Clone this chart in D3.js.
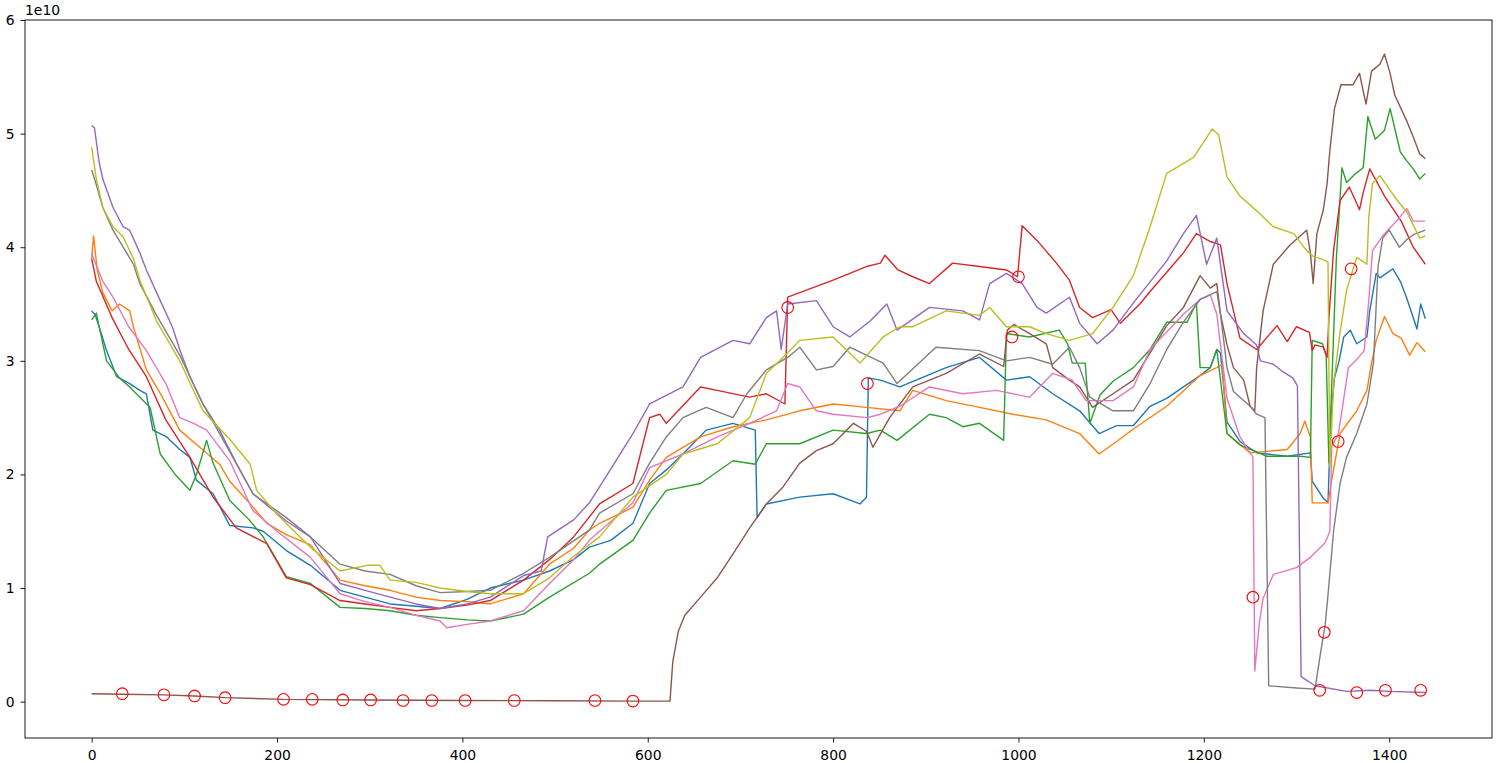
<!DOCTYPE html>
<html>
<head>
<meta charset="utf-8">
<script src="https://cdn.jsdelivr.net/npm/d3@7"></script>
<style>
  body { margin: 0; background: #fff; }
  svg { display: block; }
</style>
</head>
<body>
<svg id="chart"></svg>
<script>
// values are in units of 1e10, x is the sample index
const blue = [[0,3.44],[4,3.40],[10,3.25],[16,3.09],[27,2.86],[41,2.80],[52,2.74],[59,2.71],[66,2.39],[81,2.33],[95,2.22],[106,2.15],[113,1.95],[131,1.83],[149,1.55],[174,1.53],[185,1.50],[210,1.33],[236,1.20],[268,0.98],[295,0.92],[322,0.86],[350,0.84],[376,0.82],[405,0.90],[430,1.00],[466,1.07],[494,1.15],[520,1.25],[537,1.36],[560,1.42],[584,1.57],[602,1.92],[620,2.04],[638,2.18],[663,2.39],[692,2.45],[716,2.39],[718,1.62],[728,1.74],[764,1.80],[800,1.83],[829,1.74],[836,1.80],[838,2.85],[851,2.83],[872,2.77],[922,2.94],[958,3.03],[987,2.83],[1012,2.86],[1037,2.71],[1066,2.56],[1087,2.36],[1106,2.43],[1124,2.43],[1142,2.60],[1160,2.67],[1178,2.77],[1196,2.87],[1207,2.94],[1214,3.10],[1218,3.07],[1225,2.46],[1239,2.29],[1257,2.19],[1290,2.16],[1315,2.19],[1317,1.94],[1329,1.79],[1334,1.75],[1337,2.50],[1341,2.85],[1346,3.00],[1351,3.21],[1358,3.27],[1365,3.15],[1376,3.21],[1379,3.44],[1386,3.77],[1390,3.73],[1404,3.81],[1412,3.70],[1419,3.55],[1430,3.28],[1434,3.50],[1439,3.37]];
const orange = [[0,3.90],[2,4.10],[6,3.80],[12,3.60],[22,3.44],[30,3.50],[41,3.44],[45,3.30],[59,2.92],[75,2.70],[95,2.39],[115,2.25],[138,2.09],[149,1.94],[170,1.75],[189,1.57],[210,1.47],[236,1.38],[268,1.07],[295,1.02],[322,0.98],[350,0.92],[376,0.89],[405,0.88],[430,0.86],[466,0.95],[494,1.21],[520,1.35],[537,1.51],[548,1.57],[584,1.71],[602,1.95],[620,2.15],[657,2.33],[692,2.42],[728,2.48],[764,2.56],[800,2.62],[836,2.59],[872,2.56],[886,2.74],[922,2.65],[958,2.59],[994,2.53],[1030,2.48],[1066,2.36],[1087,2.18],[1106,2.29],[1124,2.40],[1160,2.60],[1196,2.87],[1214,2.94],[1220,2.97],[1225,2.36],[1250,2.19],[1290,2.22],[1304,2.36],[1309,2.47],[1315,2.33],[1317,1.75],[1334,1.75],[1338,1.95],[1347,2.36],[1365,2.56],[1376,2.74],[1381,2.98],[1386,3.18],[1395,3.39],[1404,3.24],[1413,3.20],[1422,3.05],[1430,3.16],[1439,3.08]];
const green = [[0,3.36],[5,3.42],[16,3.00],[30,2.85],[41,2.77],[63,2.59],[74,2.18],[90,2.00],[106,1.86],[113,2.00],[124,2.30],[131,2.10],[149,1.77],[170,1.60],[185,1.45],[210,1.10],[236,1.04],[268,0.83],[295,0.82],[322,0.80],[350,0.76],[376,0.74],[405,0.72],[430,0.71],[466,0.77],[494,0.92],[537,1.13],[548,1.21],[584,1.42],[602,1.66],[620,1.86],[657,1.92],[692,2.12],[716,2.09],[728,2.27],[764,2.27],[800,2.39],[836,2.36],[851,2.39],[869,2.30],[904,2.53],[922,2.50],[940,2.42],[958,2.45],[984,2.30],[987,3.24],[1012,3.21],[1044,3.27],[1053,3.15],[1058,2.98],[1072,2.98],[1077,2.45],[1088,2.70],[1102,2.82],[1124,2.94],[1142,3.10],[1160,3.34],[1182,3.34],[1192,3.51],[1196,2.94],[1207,2.94],[1214,3.10],[1225,2.36],[1239,2.26],[1268,2.16],[1304,2.16],[1315,2.15],[1317,3.18],[1328,3.15],[1332,3.05],[1335,2.10],[1339,3.00],[1343,3.90],[1349,4.70],[1354,4.57],[1364,4.65],[1372,4.70],[1377,5.15],[1385,4.95],[1395,5.03],[1401,5.22],[1412,4.84],[1419,4.76],[1426,4.69],[1433,4.60],[1439,4.65]];
const red = [[0,3.90],[5,3.70],[22,3.38],[40,3.10],[59,2.86],[80,2.48],[106,2.15],[131,1.80],[156,1.53],[189,1.39],[210,1.09],[236,1.03],[268,0.89],[295,0.86],[322,0.83],[350,0.80],[376,0.82],[405,0.85],[430,0.89],[466,1.07],[494,1.25],[520,1.45],[548,1.74],[584,1.92],[602,2.50],[613,2.53],[620,2.45],[657,2.77],[675,2.74],[710,2.68],[728,2.71],[748,2.62],[751,3.56],[764,3.60],[800,3.71],[836,3.83],[851,3.86],[856,3.93],[870,3.80],[886,3.74],[904,3.68],[929,3.86],[958,3.83],[987,3.80],[999,3.74],[1004,4.19],[1020,4.06],[1041,3.86],[1055,3.71],[1066,3.47],[1080,3.38],[1100,3.45],[1110,3.33],[1131,3.50],[1142,3.61],[1160,3.78],[1178,3.95],[1192,4.12],[1207,4.05],[1218,4.02],[1225,3.68],[1239,3.20],[1257,3.10],[1279,3.31],[1290,3.17],[1300,3.30],[1314,3.25],[1317,3.09],[1320,3.14],[1329,3.12],[1333,3.03],[1335,3.38],[1340,3.97],[1347,4.41],[1357,4.53],[1368,4.33],[1372,4.48],[1379,4.69],[1395,4.45],[1413,4.23],[1426,4.00],[1439,3.85]];
const purple = [[0,5.07],[3,5.05],[8,4.75],[12,4.60],[23,4.35],[34,4.18],[41,4.15],[52,3.95],[59,3.80],[74,3.53],[87,3.30],[95,3.10],[106,2.86],[120,2.62],[138,2.39],[156,2.10],[174,1.83],[210,1.59],[236,1.45],[268,1.04],[295,0.98],[322,0.92],[350,0.86],[376,0.82],[405,0.86],[430,0.92],[466,1.11],[485,1.15],[492,1.45],[520,1.60],[537,1.75],[548,1.89],[584,2.36],[602,2.62],[638,2.77],[657,3.03],[692,3.18],[710,3.15],[728,3.38],[739,3.44],[744,3.10],[751,3.50],[782,3.53],[800,3.30],[818,3.21],[840,3.35],[858,3.50],[869,3.27],[904,3.47],[940,3.44],[958,3.36],[969,3.68],[987,3.77],[1004,3.68],[1020,3.47],[1030,3.42],[1055,3.56],[1066,3.33],[1085,3.15],[1102,3.27],[1124,3.51],[1160,3.88],[1178,4.12],[1192,4.28],[1203,3.85],[1214,4.08],[1225,3.44],[1243,3.24],[1257,3.14],[1261,3.00],[1275,2.97],[1286,2.90],[1296,2.85],[1301,2.78],[1305,0.22],[1320,0.14],[1354,0.09],[1380,0.10],[1400,0.09],[1439,0.08]];
const brown = [[0,0.07],[33,0.065],[78,0.06],[111,0.05],[144,0.035],[207,0.02],[300,0.015],[400,0.01],[500,0.008],[584,0.005],[624,0.005],[627,0.35],[633,0.62],[640,0.76],[657,0.92],[675,1.09],[692,1.30],[710,1.53],[728,1.74],[746,1.89],[764,2.10],[782,2.21],[800,2.27],[822,2.45],[836,2.38],[843,2.24],[861,2.50],[886,2.77],[922,2.89],[958,3.06],[984,2.95],[988,3.27],[995,3.32],[1012,3.24],[1030,3.15],[1037,2.94],[1055,2.83],[1066,2.77],[1080,2.59],[1102,2.71],[1124,2.83],[1142,3.07],[1160,3.31],[1178,3.47],[1196,3.75],[1207,3.64],[1214,3.68],[1218,3.41],[1225,3.14],[1232,2.94],[1243,2.83],[1250,2.60],[1255,2.56],[1257,2.94],[1264,3.44],[1275,3.85],[1293,4.02],[1311,4.15],[1315,3.95],[1318,3.68],[1322,4.12],[1329,4.33],[1333,4.56],[1336,4.85],[1341,5.22],[1348,5.43],[1361,5.43],[1368,5.53],[1375,5.26],[1381,5.55],[1390,5.61],[1395,5.70],[1401,5.53],[1406,5.34],[1419,5.11],[1426,4.97],[1433,4.82],[1439,4.78]];
const pink = [[0,3.95],[2,3.90],[12,3.70],[23,3.56],[40,3.30],[59,3.09],[80,2.80],[95,2.50],[110,2.45],[124,2.39],[149,2.12],[174,1.68],[200,1.50],[236,1.27],[268,0.95],[295,0.88],[322,0.83],[350,0.76],[376,0.71],[383,0.65],[405,0.68],[430,0.71],[466,0.80],[494,1.04],[520,1.25],[537,1.42],[548,1.50],[584,1.75],[602,2.06],[638,2.18],[675,2.33],[710,2.45],[739,2.56],[751,2.80],[764,2.77],[782,2.56],[800,2.53],[837,2.50],[851,2.53],[872,2.60],[904,2.77],[940,2.71],[976,2.74],[1012,2.68],[1037,2.89],[1058,2.83],[1073,2.65],[1102,2.65],[1124,2.77],[1142,3.10],[1178,3.41],[1196,3.54],[1207,3.58],[1214,3.41],[1225,2.67],[1239,2.33],[1250,2.19],[1253,2.15],[1255,0.27],[1260,0.70],[1264,0.91],[1275,1.12],[1300,1.18],[1315,1.27],[1325,1.35],[1331,1.40],[1336,1.50],[1338,2.25],[1345,2.35],[1349,2.56],[1356,2.94],[1367,3.03],[1373,3.09],[1378,3.53],[1382,3.97],[1394,4.11],[1408,4.23],[1419,4.34],[1426,4.23],[1439,4.23]];
const gray = [[0,4.68],[5,4.55],[12,4.35],[23,4.15],[34,4.00],[45,3.85],[52,3.68],[70,3.40],[95,3.05],[120,2.62],[149,2.20],[174,1.83],[210,1.62],[236,1.45],[268,1.21],[295,1.15],[322,1.12],[350,1.02],[376,0.96],[405,0.97],[430,0.98],[466,1.13],[494,1.27],[537,1.51],[548,1.66],[584,1.83],[602,2.10],[620,2.33],[638,2.50],[663,2.59],[692,2.50],[707,2.71],[728,2.92],[751,3.03],[764,3.12],[782,2.92],[800,2.95],[818,3.12],[836,3.05],[854,2.98],[869,2.80],[911,3.12],[958,3.09],[987,3.00],[1012,3.03],[1037,2.97],[1055,3.12],[1066,2.94],[1077,2.68],[1102,2.56],[1124,2.56],[1142,2.80],[1160,3.10],[1178,3.34],[1196,3.54],[1214,3.61],[1218,3.41],[1225,2.94],[1232,2.73],[1250,2.60],[1257,2.53],[1266,2.50],[1270,0.14],[1300,0.12],[1320,0.11],[1325,0.38],[1331,0.68],[1334,0.94],[1340,1.50],[1347,1.92],[1354,2.15],[1365,2.36],[1376,2.62],[1383,2.98],[1388,3.83],[1393,4.08],[1400,4.15],[1411,4.00],[1418,4.06],[1426,4.11],[1439,4.15]];
const olive = [[0,4.88],[5,4.60],[12,4.35],[23,4.18],[34,4.09],[45,3.90],[52,3.71],[70,3.35],[95,3.00],[120,2.56],[149,2.31],[171,2.09],[178,1.86],[200,1.65],[236,1.36],[268,1.15],[297,1.20],[311,1.20],[322,1.07],[350,1.05],[376,1.00],[405,0.97],[430,0.95],[466,0.95],[494,1.09],[520,1.28],[548,1.45],[584,1.80],[620,2.00],[638,2.18],[675,2.27],[710,2.50],[728,2.89],[746,3.03],[764,3.18],[800,3.21],[829,2.98],[854,3.21],[872,3.30],[886,3.30],[922,3.44],[958,3.40],[969,3.47],[987,3.30],[1012,3.30],[1030,3.24],[1055,3.18],[1080,3.24],[1102,3.47],[1124,3.75],[1142,4.18],[1160,4.65],[1189,4.79],[1209,5.04],[1216,4.99],[1225,4.62],[1239,4.45],[1257,4.32],[1275,4.18],[1297,4.12],[1311,3.97],[1318,3.92],[1326,3.90],[1334,3.87],[1336,2.06],[1340,2.80],[1347,3.25],[1354,3.62],[1365,3.91],[1376,3.85],[1378,4.26],[1382,4.56],[1390,4.63],[1395,4.57],[1408,4.42],[1419,4.31],[1433,4.08],[1439,4.10]];

const markers = [[33,0.07],[78,0.06],[111,0.05],[144,0.035],[207,0.02],[238,0.02],[271,0.015],[301,0.015],[336,0.01],[367,0.01],[403,0.01],[456,0.01],[543,0.01],[584,0.005],[751,3.47],[837,2.80],[993,3.21],[1000,3.74],[1253,0.92],[1325,0.10],[1330,0.61],[1345,2.29],[1359,3.81],[1365,0.08],[1396,0.10],[1434,0.10]];

const xTicks = [0, 200, 400, 600, 800, 1000, 1200, 1400];
const yTicks = [0, 1, 2, 3, 4, 5, 6];

const series = [blue, orange, green, red, purple, brown, pink, gray, olive];
const colors = ['#1f77b4', '#ff7f0e', '#2ca02c', '#d62728', '#9467bd', '#8c564b', '#e377c2', '#7f7f7f', '#bcbd22'];

const width = 1502;
const height = 763;
const plotLeft = 25, plotRight = 1492, plotTop = 20, plotBottom = 738;

const svg = d3.select('#chart')
    .attr('width', width)
    .attr('height', height);

svg.append('rect')
    .attr('width', width)
    .attr('height', height)
    .attr('fill', '#fff');

const x = d3.scaleLinear().domain([-71.95, 1510.95]).range([plotLeft, plotRight]);
const y = d3.scaleLinear().domain([-0.32, 6.0]).range([plotBottom, plotTop]);

const font = 'DejaVu Sans, sans-serif';

svg.append('clipPath')
    .attr('id', 'clip')
    .append('rect')
    .attr('x', plotLeft)
    .attr('y', plotTop)
    .attr('width', plotRight - plotLeft)
    .attr('height', plotBottom - plotTop);

const line = d3.line()
    .x(d => x(d[0]))
    .y(d => y(d[1]));

const g = svg.append('g').attr('clip-path', 'url(#clip)');

g.selectAll('path.series')
    .data(series)
    .enter()
    .append('path')
    .attr('class', 'series')
    .attr('d', d => line(d))
    .attr('fill', 'none')
    .attr('stroke', (d, i) => colors[i])
    .attr('stroke-width', 1.4)
    .attr('stroke-linejoin', 'round');

g.selectAll('circle.mark')
    .data(markers)
    .enter()
    .append('circle')
    .attr('class', 'mark')
    .attr('cx', d => x(d[0]))
    .attr('cy', d => y(d[1]))
    .attr('r', 5.8)
    .attr('fill', 'none')
    .attr('stroke', '#ff0000')
    .attr('stroke-width', 1.1);

const xAxis = d3.axisBottom(x)
    .tickValues(xTicks)
    .tickFormat(d3.format('d'))
    .tickSize(4.5)
    .tickPadding(7.5)
    .tickSizeOuter(0);

const yAxis = d3.axisLeft(y)
    .tickValues(yTicks)
    .tickFormat(d3.format('d'))
    .tickSize(4.5)
    .tickPadding(5.8)
    .tickSizeOuter(0);

const gx = svg.append('g')
    .attr('transform', 'translate(0,' + plotBottom + ')')
    .call(xAxis);

const gy = svg.append('g')
    .attr('transform', 'translate(' + plotLeft + ',0)')
    .call(yAxis);

[gx, gy].forEach(a => {
    a.select('.domain').remove();
    a.selectAll('line').attr('stroke', '#000').attr('stroke-width', 0.9);
    a.selectAll('text')
        .attr('fill', '#000')
        .style('font-family', font)
        .style('font-size', '13.9px');
});

svg.append('rect')
    .attr('x', plotLeft)
    .attr('y', plotTop)
    .attr('width', plotRight - plotLeft)
    .attr('height', plotBottom - plotTop)
    .attr('fill', 'none')
    .attr('stroke', '#000')
    .attr('stroke-width', 0.9);

svg.append('text')
    .attr('x', plotLeft)
    .attr('y', 15)
    .style('font-family', font)
    .style('font-size', '13.9px')
    .text('1e10');
</script>
</body>
</html>
